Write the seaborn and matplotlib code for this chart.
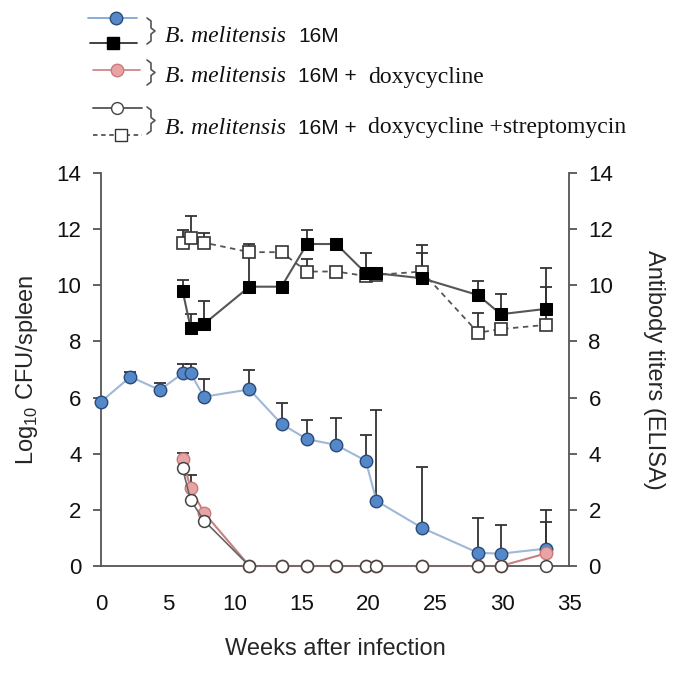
import numpy as np
import pandas as pd
import seaborn as sns
import matplotlib
matplotlib.use("Agg")
import matplotlib.pyplot as plt
from matplotlib.lines import Line2D

sns.set_style("white")
plt.rcParams['font.family'] = ['Liberation Sans', 'DejaVu Sans']
plt.rcParams['mathtext.fontset'] = 'custom'
plt.rcParams['mathtext.rm'] = 'Liberation Sans'

# ---------------- data ----------------
weeks_all = [0, 2.2, 4.4, 6.1, 6.7, 7.7, 11.1, 13.5, 15.4, 17.6, 19.8, 20.6, 24.0, 28.2, 29.9, 33.3]
cfu_16m = [5.85, 6.74, 6.27, 6.86, 6.86, 6.03, 6.29, 5.06, 4.52, 4.31, 3.75, 2.32, 1.36, 0.47, 0.44, 0.62]
cfu_16m_err = [0, 0.18, 0.25, 0.34, 0.34, 0.63, 0.69, 0.74, 0.68, 0.97, 0.92, 3.24, 2.18, 1.23, 1.02, 1.38]

weeks_tr = [6.1, 6.7, 7.7, 11.1, 13.5, 15.4, 17.6, 19.8, 20.6, 24.0, 28.2, 29.9, 33.3]
cfu_doxy = [3.80, 2.77, 1.90, 0, 0, 0, 0, 0, 0, 0, 0, 0, 0.45]
cfu_doxy_err = [0.24, 0.47, 0, 0, 0, 0, 0, 0, 0, 0, 0, 0, 1.13]
cfu_doxy_strep = [3.48, 2.35, 1.62, 0, 0, 0, 0, 0, 0, 0, 0, 0, 0]
cfu_doxy_strep_err = [0, 0.5, 0, 0, 0, 0, 0, 0, 0, 0, 0, 0, 0]

ab_16m = [9.81, 8.49, 8.62, 9.95, 9.95, 11.47, 11.47, 10.43, 10.43, 10.25, 9.65, 8.97, 9.16]
ab_16m_err = [0.38, 0.48, 0.82, 1.2, 0, 0.5, 0, 0.73, 0, 1.19, 0.5, 0.72, 1.44]
ab_doxy_strep = [11.52, 11.67, 11.52, 11.18, 11.18, 10.49, 10.49, 10.33, 10.37, 10.49, 8.31, 8.44, 8.59]
ab_doxy_strep_err = [0.45, 0.8, 0.33, 0.29, 0, 0.45, 0, 0, 0, 0.65, 0.69, 0, 1.36]

x_ticks = [0, 5, 10, 15, 20, 25, 30, 35]
y_ticks = [0, 2, 4, 6, 8, 10, 12, 14]

# ---------------- figure ----------------
W, H = 685, 675
fig = plt.figure(figsize=(W / 100, H / 100), dpi=100)
ax = fig.add_axes([101 / W, 1 - 566 / H, (569 - 101) / W, (566 - 173) / H])
ax2 = ax.twinx()

spine_col = '#555555'
err_col = '#333333'

def errs(a, x, y, e, zorder=2):
    yerr = [np.zeros(len(e)), np.array(e)]
    a.errorbar(x, y, yerr=yerr, fmt='none', ecolor=err_col, elinewidth=1.3,
               capsize=4, capthick=1.3, zorder=zorder)

# antibody (right axis)
errs(ax2, weeks_tr, ab_16m, ab_16m_err)
errs(ax2, weeks_tr, ab_doxy_strep, ab_doxy_strep_err)
df_ab1 = pd.DataFrame({'w': weeks_tr, 'v': ab_16m})
df_ab2 = pd.DataFrame({'w': weeks_tr, 'v': ab_doxy_strep})
sns.lineplot(data=df_ab2, x='w', y='v', ax=ax2, color='#555555', lw=1.3,
             linestyle=(0, (3, 2.5)), marker='s', markersize=9,
             markerfacecolor='white', markeredgecolor='#333333', markeredgewidth=1.2, zorder=3)
sns.lineplot(data=df_ab1, x='w', y='v', ax=ax2, color='#555555', lw=1.5,
             marker='s', markersize=9, markerfacecolor='black',
             markeredgecolor='black', zorder=4)

# CFU (left axis)
errs(ax, weeks_all, cfu_16m, cfu_16m_err)
errs(ax, weeks_tr, cfu_doxy, cfu_doxy_err)
errs(ax, weeks_tr, cfu_doxy_strep, cfu_doxy_strep_err)
df1 = pd.DataFrame({'w': weeks_all, 'v': cfu_16m})
df2 = pd.DataFrame({'w': weeks_tr, 'v': cfu_doxy})
df3 = pd.DataFrame({'w': weeks_tr, 'v': cfu_doxy_strep})
sns.lineplot(data=df1, x='w', y='v', ax=ax, color='#9fb8d8', lw=1.5, marker='o',
             markersize=9, markerfacecolor='#5588c8', markeredgecolor='#2a4a78',
             markeredgewidth=1.0, zorder=3, clip_on=False)
sns.lineplot(data=df2, x='w', y='v', ax=ax, color='#c88080', lw=1.5, marker='o',
             markersize=9, markerfacecolor='#e8a4a4', markeredgecolor='#c87a7a',
             markeredgewidth=1.0, zorder=3, clip_on=False)
sns.lineplot(data=df3, x='w', y='v', ax=ax, color='#666666', lw=1.2, marker='o',
             markersize=8.5, markerfacecolor='white', markeredgecolor='#444444',
             markeredgewidth=1.1, zorder=4, clip_on=False)

for a in (ax, ax2):
    a.set_xlim(0, 35)
    a.set_ylim(0, 14)
    a.set_yticks(y_ticks)
    a.spines['top'].set_visible(False)
    for s in a.spines.values():
        s.set_color(spine_col)
        s.set_linewidth(1.3)
    a.tick_params(axis='both', direction='out', length=6, width=1.3,
                  color=spine_col, labelsize=16, labelcolor='#111111', pad=8)
    a.set_xlabel('')
    a.set_ylabel('')
ax.set_xticks(x_ticks)
ax.tick_params(axis='x', pad=14)
ax.spines['right'].set_visible(False)
ax2.spines['left'].set_visible(False)
ax2.spines['bottom'].set_visible(False)
ax.set_ylabel('Log$_{10}$ CFU/spleen', fontsize=17, labelpad=12)
ax.set_xlabel('Weeks after infection', fontsize=17, labelpad=17)
ax2.set_ylabel('Antibody titers (ELISA)', fontsize=17, rotation=270, labelpad=37)

# ---------------- custom legend ----------------
def fx(px):
    return px / W

def fy(py):
    return 1 - py / H

def leg_line(x0, x1, y, mx, color, marker, mfc, mec, ls='-', ms=9):
    fig.add_artist(Line2D([fx(x0), fx(x1)], [fy(y), fy(y)], color=color, lw=1.3,
                          linestyle=ls, transform=fig.transFigure))
    fig.add_artist(Line2D([fx(mx)], [fy(y)], marker=marker, markersize=ms,
                          markerfacecolor=mfc, markeredgecolor=mec, linestyle='none',
                          transform=fig.transFigure))

leg_line(88, 137, 18, 116, '#7ea7d6', 'o', '#5588c8', '#2a4a78')
leg_line(90, 137, 43, 113, '#333333', 's', 'black', 'black')
leg_line(93, 140, 70, 117, '#d08888', 'o', '#e8a4a4', '#c87a7a')
leg_line(93, 142, 108, 117, '#555555', 'o', 'white', '#444444', ms=8.5)
leg_line(93, 142, 135, 121, '#555555', 's', 'white', '#333333', ls=(0, (2.5, 2)))

def brace(top, bot, x=151):
    mid = (top + bot) / 2
    xs = [x - 4, x, x, x + 4, x, x, x - 4]
    ys = [top, top + 3, mid - 3, mid, mid + 3, bot - 3, bot]
    fig.add_artist(Line2D([fx(v) for v in xs], [fy(v) for v in ys], color='#555555',
                          lw=1.2, transform=fig.transFigure))

brace(18, 44)
brace(60, 85)
brace(107, 134)

serif = ['Liberation Serif', 'DejaVu Serif']

def leg_text(y, tail):
    fig.text(fx(165), fy(y), 'B. melitensis', fontsize=17, style='italic',
             family=serif, va='center', ha='left', color='#111111')
    fig.text(fx(298), fy(y), tail[0], fontsize=15, va='center', ha='left', color='#111111')
    if tail[1]:
        fig.text(fx(368), fy(y), tail[1], fontsize=17, family=serif,
                 va='center', ha='left', color='#111111')

leg_text(37, ('16M', ''))
leg_text(77, ('16M +', 'doxycycline'))
leg_text(128, ('16M +', 'doxycycline +streptomycin'))

fig.savefig('out.png', dpi=100)
